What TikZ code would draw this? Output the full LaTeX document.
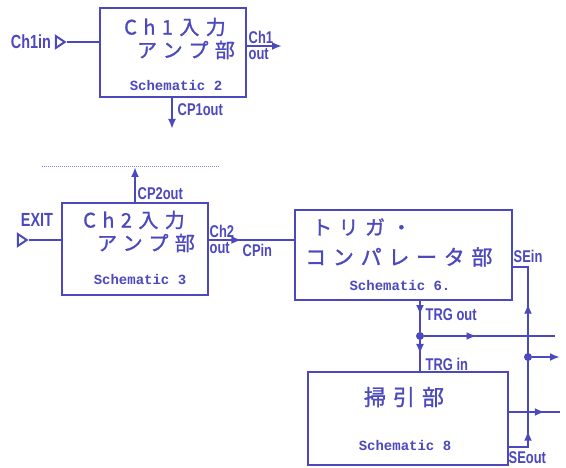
\documentclass[tikz,border=0pt]{standalone}
\usepackage{fontspec}
\setmainfont{Liberation Sans}
\newfontfamily\jpfont[LetterSpace=32, FakeBold=1.2]{Noto Sans CJK JP}
\newfontfamily\lblfont[FakeStretch=0.76]{Liberation Sans Bold}
\newfontfamily\schfont{Liberation Mono Bold}
\usetikzlibrary{
  arrows.meta,
  shapes.geometric,
  positioning,
  decorations.markings,
  calc
}
\definecolor{InkBlue}{RGB}{76,72,190}

\begin{document}
\begin{tikzpicture}[
  x=1pt, y=-1pt, color=InkBlue,
  blk/.style={rectangle, draw, line width=2.6pt, inner sep=0pt},
  jp/.style={font=\jpfont\fontsize{20}{22}\selectfont, inner sep=0pt},
  sch/.style={font=\schfont\fontsize{14}{16}\selectfont, inner sep=0pt},
  lbl/.style={font=\lblfont\fontsize{17}{19}\selectfont, inner sep=0.5pt},
  biglbl/.style={font=\lblfont\fontsize{19}{21}\selectfont, inner sep=1pt},
  term/.style={isosceles triangle, isosceles triangle stretches, draw,
               line width=2pt, minimum width=12pt, minimum height=9pt,
               inner sep=0pt},
  wire/.style={line width=2.2pt},
  arr/.style={wire, -{Latex[length=10pt,width=8pt]}},
  midarr/.style={wire, postaction={decorate},
    decoration={markings,
      mark=at position #1 with {\arrow{Latex[length=10pt,width=8pt]}}}},
  dot/.style={circle, fill, inner sep=0pt, minimum size=8pt}
]

\fill[white] (0,0) rectangle (566,468);
\useasboundingbox (0,0) rectangle (566,468);

% Ch1 amplifier
\node[blk, minimum width=146pt, minimum height=89pt] (amp1) at (173,52.5) {};
\node[jp]  (amp1a) at (175,27) {Ch1入力};
\node[jp]  (amp1b) at (186,50) {アンプ部};
\node[sch] (amp1c) at (176,85) {Schematic 2};

\node[biglbl] (ch1in) at (31,42) {Ch1in};
\node[term] (term1) at (59,42) {};
\draw[wire] (term1.apex) -- (term1.apex -| amp1.west);

\coordinate (ch1o) at (282,46);
\draw[arr] (amp1.east |- ch1o) -- (ch1o);
\node[lbl, anchor=south west] (ch1ol) at (248,44) {Ch1};
\node[lbl, anchor=north west] (ch1ou) at (248,48) {out};

\coordinate (cp1o) at (172,129);
\draw[arr] (cp1o |- amp1.south) -- (cp1o);
\node[lbl, anchor=west] (cp1l) at (177,110) {CP1out};

% Ch2 amplifier
\coordinate (dl) at (42,167);
\coordinate (dr) at (220,167);
\draw[line width=1pt, densely dotted, InkBlue!70] (dl) -- (dr);

\node[blk, minimum width=146pt, minimum height=92pt] (amp2) at (135,249) {};
\node[jp]  (amp2a) at (134,220) {Ch2入力};
\node[jp]  (amp2b) at (146,243) {アンプ部};
\node[sch] (amp2c) at (140,280) {Schematic 3};

\draw[arr] (amp2.north) -- (amp2.north |- dl);
\node[lbl, anchor=west] (cp2l) at (137,194) {CP2out};

\node[biglbl] (exit) at (37,220) {EXIT};
\node[term] (term2) at (21,240) {};
\draw[wire] (term2.apex) -- (term2.apex -| amp2.west);

% trigger comparator
\node[blk, minimum width=217pt, minimum height=90pt] (trg) at (403.5,255) {};
\node[jp, anchor=west] (trga) at (312,227) {トリガ・};
\node[jp, anchor=west, font=\jpfont\fontsize{21}{23}\selectfont] (trgb) at (305,257) {コンパレータ部};
\node[sch] (trgc) at (400,285) {Schematic 6.};

\draw[midarr=0.38] (amp2.east |- term2.apex) -- (trg.west |- term2.apex);
\node[lbl, anchor=south west] (ch2ol) at (209,238) {Ch2};
\node[lbl, anchor=north west] (ch2ou) at (209,242) {out};
\node[lbl, anchor=north west] (cpin)  at (242,243) {CPin};

% sweep
\node[blk, minimum width=200pt, minimum height=93pt] (swp) at (408,418.5) {};
\node[jp, font=\jpfont\fontsize{22}{24}\selectfont] (swpa) at (404,397) {掃引部};
\node[sch] (swpb) at (405,445) {Schematic 8};

\node[dot] (jn1) at (420,336) {};
\draw[midarr=0.45] (trg.south -| jn1) -- (jn1);
\draw[midarr=0.45] (jn1) -- (swp.north -| jn1);
\coordinate (o1) at (555,336);
\draw[midarr=0.4] (jn1) -- (o1);
\node[lbl, anchor=west] (trgo) at (425,315) {TRG out};
\node[lbl, anchor=west] (trgi) at (425,364) {TRG in};

\coordinate (seb) at (528,447);
\coordinate (set) at (528,267);
\draw[wire, postaction={decorate},
  decoration={markings,
    mark=at position 35pt with {\arrow{Latex[length=10pt,width=8pt]}},
    mark=at position 162pt with {\arrow{Latex[length=10pt,width=8pt]}}}]
  (swp.east |- seb) -- (seb) -- (set) -- (trg.east |- set);
\node[lbl, anchor=west] (sein)  at (513,256) {SEin};
\node[lbl, anchor=west] (seout) at (508,458) {SEout};

\node[dot] (jn2) at (528,357) {};
\coordinate (o2) at (560,357);
\draw[arr] (jn2) -- (o2);
\coordinate (o3) at (560,412);
\draw[midarr=0.7] (swp.east |- o3) -- (o3);

\end{tikzpicture}
\end{document}
